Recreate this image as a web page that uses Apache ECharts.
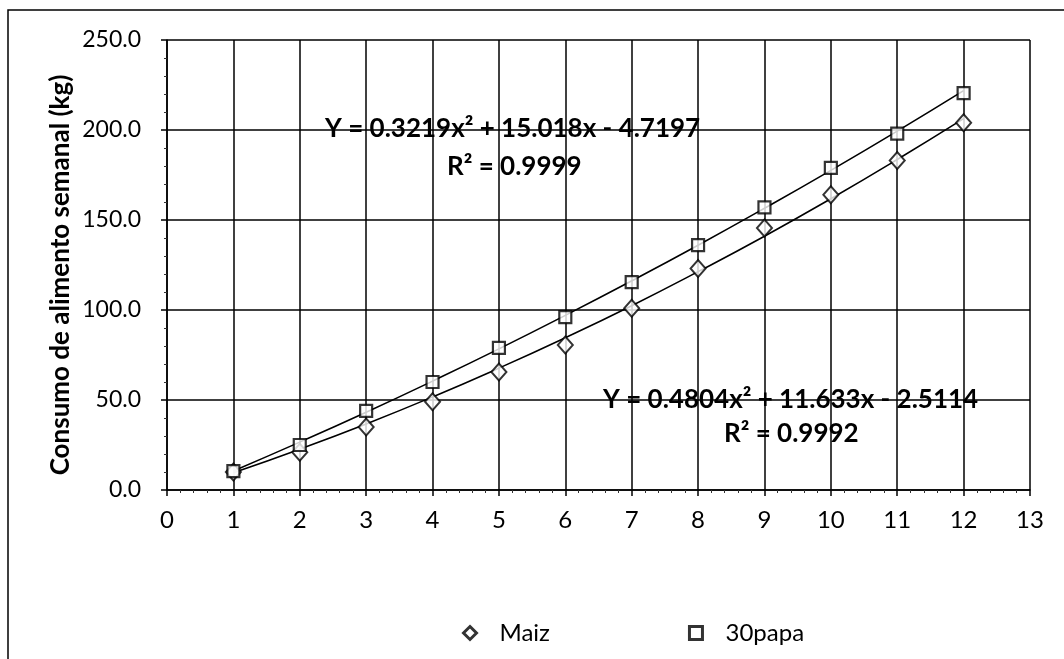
<!DOCTYPE html>
<html><head><meta charset="utf-8">
<script src="https://cdn.jsdelivr.net/npm/echarts@6/dist/echarts.min.js"></script>
<style>html,body{margin:0;padding:0;background:#fff}#c{width:1064px;height:659px}</style>
</head><body><div id="c"></div>
<script>
var weeks = [1,2,3,4,5,6,7,8,9,10,11,12];
var maiz = [10, 21, 35, 49, 65.5, 80.5, 101, 123, 145.5, 164, 183, 204];
var papa = [10.5, 25, 44, 60, 79, 96, 115.5, 136, 157, 179, 198, 220.5];
var maizTrend = [9.6, 22.7, 36.7, 51.7, 67.7, 84.6, 102.4, 121.3, 141, 161.8, 183.6, 206.3];
var papaTrend = [10.6, 26.6, 43.2, 60.5, 78.4, 97, 116.2, 136, 156.5, 177.6, 199.4, 221.9];
var yTicks = ['0.0','50.0','100.0','150.0','200.0','250.0'];
var yTitle = 'Consumo de alimento semanal (kg)';
var eq1 = 'Y = 0.3219x\u00b2 + 15.018x - 4.7197';
var r1 = 'R\u00b2 = 0.9999';
var eq2 = 'Y = 0.4804x\u00b2 + 11.633x - 2.5114';
var r2 = 'R\u00b2 = 0.9992';

function pairs(xs, ys){ return xs.map(function(x,i){return [x, ys[i]];}); }
var F = 'Lato, "Open Sans", sans-serif';
var chart = echarts.init(document.getElementById('c'));
chart.setOption({
  animation: false,
  backgroundColor: '#fff',
  grid: {left: 167, top: 40, right: 34, bottom: 169},
  xAxis: {
    type: 'value', min: 0, max: 13, interval: 1,
    axisLine: {show: true, lineStyle: {color: '#000', width: 1.5}},
    axisTick: {show: true, length: 6, lineStyle: {color: '#000', width: 1.5}},
    minorTick: {show: true, splitNumber: 5, length: 3, lineStyle: {color: '#333'}},
    splitLine: {show: true, lineStyle: {color: '#000', width: 1.5}},
    axisLabel: {color: '#000', fontSize: 24, fontFamily: F, margin: 18}
  },
  yAxis: {
    type: 'value', min: 0, max: 250, interval: 50,
    axisLine: {show: true, lineStyle: {color: '#000', width: 1.5}},
    axisTick: {show: true, length: 6, lineStyle: {color: '#000', width: 1.5}},
    minorTick: {show: true, splitNumber: 5, length: 3, lineStyle: {color: '#333'}},
    splitLine: {show: true, lineStyle: {color: '#000', width: 1.5}},
    axisLabel: {color: '#000', fontSize: 23, fontFamily: F, margin: 26,
      formatter: function(v){ return yTicks[Math.round(v/50)]; }}
  },
  legend: {
    top: 616, left: 457, itemGap: 138, itemWidth: 13, itemHeight: 13,
    textStyle: {color: '#000', fontSize: 24, fontFamily: F, padding: [0, 0, 0, 18]},
    itemStyle: {borderWidth: 3},
    data: [{name: 'Maiz', icon: 'diamond'}, {name: '30papa', icon: 'rect'}]
  },
  series: [
    {name: 'maizTrend', type: 'line', data: pairs(weeks, maizTrend), smooth: true, showSymbol: false,
     lineStyle: {color: '#000', width: 1.6}, z: 2, silent: true},
    {name: 'papaTrend', type: 'line', data: pairs(weeks, papaTrend), smooth: true, showSymbol: false,
     lineStyle: {color: '#000', width: 1.6}, z: 2, silent: true},
    {name: 'Maiz', type: 'scatter', data: pairs(weeks, maiz), symbol: 'diamond', symbolSize: [15, 17],
     itemStyle: {color: '#fff', borderColor: '#000', borderWidth: 2}, z: 3},
    {name: '30papa', type: 'scatter', data: pairs(weeks, papa), symbol: 'rect', symbolSize: 12,
     itemStyle: {color: '#fff', borderColor: '#000', borderWidth: 2.2}, z: 4}
  ],
  graphic: [
    {type: 'rect', shape: {x: 8, y: 10, width: 1100, height: 700}, style: {fill: 'none', stroke: '#000', lineWidth: 1.5}, silent: true},
    {type: 'text', x: 61, y: 275, rotation: Math.PI / 2,
     style: {text: yTitle, fill: '#000', font: 'bold 26px ' + F, align: 'center', verticalAlign: 'middle'}, z: 10},
    {type: 'text', left: 325, top: 116, style: {text: eq1, fill: '#000', font: 'bold 26px ' + F}, z: 10},
    {type: 'text', left: 447, top: 154, style: {text: r1, fill: '#000', font: 'bold 26px ' + F}, z: 10},
    {type: 'text', left: 603, top: 387, style: {text: eq2, fill: '#000', font: 'bold 26px ' + F}, z: 10},
    {type: 'text', left: 724, top: 421, style: {text: r2, fill: '#000', font: 'bold 26px ' + F}, z: 10}
  ]
});
</script></body></html>
